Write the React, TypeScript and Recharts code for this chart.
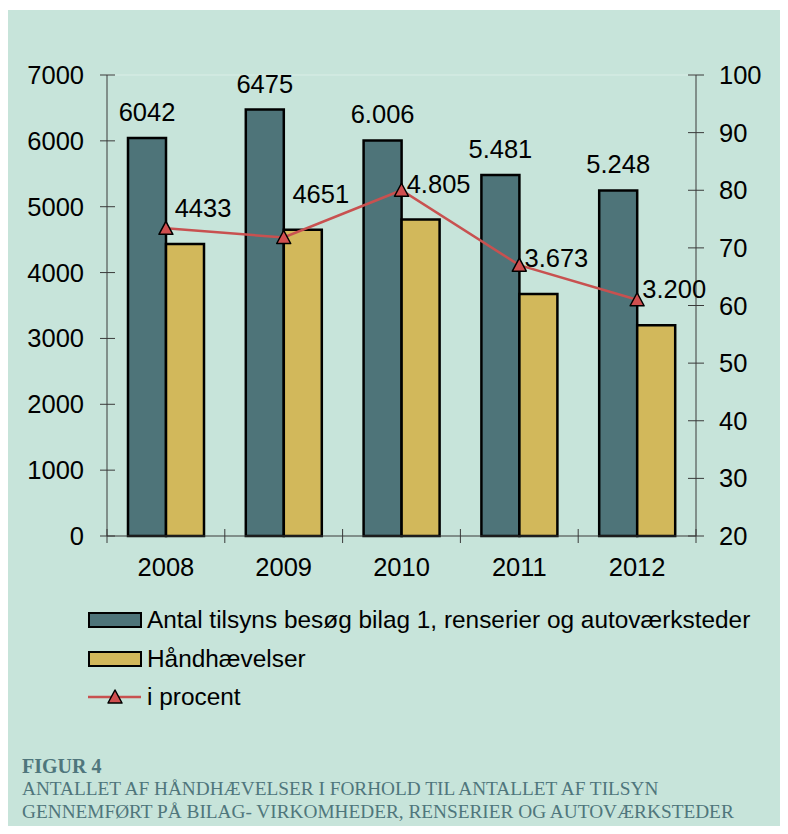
import React from 'react';
import { ComposedChart, Bar, Line, XAxis, YAxis, LabelList, ReferenceLine } from 'recharts';

const years = ['2008', '2009', '2010', '2011', '2012'];
const tilsyn = [6042, 6475, 6006, 5481, 5248];
const tilsynLabels = ['6042', '6475', '6.006', '5.481', '5.248'];
const haandhaevelser = [4433, 4651, 4805, 3673, 3200];
const haandLabels = ['4433', '4651', '4.805', '3.673', '3.200'];
const procent = [73.4, 71.8, 80.0, 67.0, 61.0];
const leftTicks = [0, 1000, 2000, 3000, 4000, 5000, 6000, 7000];
const rightTicks = [20, 30, 40, 50, 60, 70, 80, 90, 100];
const seriesNames = [
  'Antal tilsyns besøg bilag 1, renserier og autoværksteder',
  'Håndhævelser',
  'i procent',
];
const captionTitle = 'FIGUR 4';
const captionLines = [
  'ANTALLET AF HÅNDHÆVELSER I FORHOLD TIL ANTALLET AF TILSYN',
  'GENNEMFØRT PÅ BILAG- VIRKOMHEDER, RENSERIER OG AUTOVÆRKSTEDER',
];

const data = years.map((year, i) => ({
  year,
  tilsyn: tilsyn[i],
  tilsynLabel: tilsynLabels[i],
  haand: haandhaevelser[i],
  haandLabel: haandLabels[i],
  procent: procent[i],
}));

const BG = '#c7e4da';
const DARK = '#4e7479';
const GOLD = '#d2b85b';
const RED = '#c85150';
const AXIS = '#3a3a3a';
const FONT = '"Liberation Sans", Arial, sans-serif';
const FS = 25.5;

// plot box
const P_LEFT = 107;
const P_RIGHT = 696;
const P_TOP = 75;
const P_BOTTOM = 536;
const BAND = (P_RIGHT - P_LEFT) / years.length;

const LeftTick = (props: any) => {
  const { y, payload } = props;
  return (
    <g>
      <line x1={P_LEFT - 7} x2={P_LEFT + 8} y1={y} y2={y} stroke={AXIS} strokeWidth={1} />
      <text x={P_LEFT - 23} y={y} textAnchor="end" dominantBaseline="central" fontFamily={FONT} fontSize={FS} fill="#000">
        {payload.value}
      </text>
    </g>
  );
};

const RightTick = (props: any) => {
  const { y, payload } = props;
  return (
    <g>
      <line x1={P_RIGHT - 8} x2={P_RIGHT + 8} y1={y} y2={y} stroke={AXIS} strokeWidth={1} />
      <text x={P_RIGHT + 23} y={y} textAnchor="start" dominantBaseline="central" fontFamily={FONT} fontSize={FS} fill="#000">
        {payload.value}
      </text>
    </g>
  );
};

const BottomTick = (props: any) => {
  const { x, payload, index } = props;
  const left = x - BAND / 2;
  return (
    <g>
      <line x1={left} x2={left} y1={P_BOTTOM - 7} y2={P_BOTTOM + 7} stroke={AXIS} strokeWidth={1} />
      {index === years.length - 1 && (
        <line x1={x + BAND / 2} x2={x + BAND / 2} y1={P_BOTTOM - 7} y2={P_BOTTOM + 7} stroke={AXIS} strokeWidth={1} />
      )}
      <text x={x} y={P_BOTTOM + 31} textAnchor="middle" dominantBaseline="central" fontFamily={FONT} fontSize={FS} fill="#000">
        {payload.value}
      </text>
    </g>
  );
};

const Triangle = ({ cx, cy, size = 14 }: any) => (
  <path
    d={`M${cx},${cy - 7} L${cx + size / 2},${cy + 6} L${cx - size / 2},${cy + 6} Z`}
    fill="#d04f4f"
    stroke="#000"
    strokeWidth={1.5}
    strokeLinejoin="round"
  />
);

const darkLabel = (p: any) => (
  <text
    key={`dl${p.index}`}
    x={p.x + p.width / 2}
    y={p.y - 26}
    textAnchor="middle"
    dominantBaseline="central"
    fontFamily={FONT}
    fontSize={FS}
    fill="#000"
  >
    {p.value}
  </text>
);

const goldLabel = (p: any) => (
  <text
    key={`gl${p.index}`}
    x={p.x + p.width / 2 + 18}
    y={p.y - 36}
    textAnchor="middle"
    dominantBaseline="central"
    fontFamily={FONT}
    fontSize={FS}
    fill="#000"
  >
    {p.value}
  </text>
);

const LegendBlock = () => (
  <div style={{ position: 'absolute', left: 88, top: 601, fontFamily: FONT, fontSize: 24.4, color: '#000' }}>
    {seriesNames.map((name, i) => (
      <div key={name} style={{ display: 'flex', alignItems: 'center', height: 38.5 }}>
        <svg width={56} height={20} style={{ marginRight: 3 }}>
          {i < 2 ? (
            <rect x={1} y={3} width={52} height={14} fill={i === 0 ? DARK : GOLD} stroke="#000" strokeWidth={2} />
          ) : (
            <g>
              <line x1={0} x2={53} y1={10} y2={10} stroke={RED} strokeWidth={2.5} />
              <Triangle cx={27} cy={10} />
            </g>
          )}
        </svg>
        <span style={{ lineHeight: 1 }}>{name}</span>
      </div>
    ))}
  </div>
);

export default function App() {
  return (
    <div style={{ position: 'relative', margin: -8, width: 788, height: 834, background: '#fff', overflow: 'hidden' }}>
      <div style={{ position: 'absolute', left: 6, top: 10, right: 0, bottom: 1, background: BG }} />
      <div style={{ position: 'absolute', left: 0, top: 0 }}>
        <ComposedChart
          width={788}
          height={600}
          data={data}
          margin={{ top: P_TOP, left: P_LEFT - 60, right: 788 - P_RIGHT - 60, bottom: 600 - P_BOTTOM - 40 }}
          barSize={38}
          barGap={0}
        >
          <XAxis
            dataKey="year"
            height={40}
            axisLine={{ stroke: AXIS, strokeWidth: 1 }}
            tickLine={false}
            tick={BottomTick}
            interval={0}
          />
          <YAxis
            yAxisId="left"
            width={60}
            domain={[0, 7000]}
            ticks={leftTicks}
            axisLine={{ stroke: AXIS, strokeWidth: 1 }}
            tickLine={false}
            tick={LeftTick}
            interval={0}
          />
          <YAxis
            yAxisId="right"
            orientation="right"
            width={60}
            domain={[20, 100]}
            ticks={rightTicks}
            axisLine={{ stroke: AXIS, strokeWidth: 1 }}
            tickLine={false}
            tick={RightTick}
            interval={0}
          />
          <ReferenceLine yAxisId="left" y={7000} stroke="#daeee7" strokeWidth={1} />
          <Bar yAxisId="left" dataKey="tilsyn" name={seriesNames[0]} fill={DARK} stroke="#000" strokeWidth={2.5} isAnimationActive={false}>
            <LabelList dataKey="tilsynLabel" content={darkLabel} />
          </Bar>
          <Bar yAxisId="left" dataKey="haand" name={seriesNames[1]} fill={GOLD} stroke="#000" strokeWidth={2.5} isAnimationActive={false}>
            <LabelList dataKey="haandLabel" content={goldLabel} />
          </Bar>
          <Line
            yAxisId="right"
            type="linear"
            dataKey="procent"
            name={seriesNames[2]}
            stroke={RED}
            strokeWidth={2.5}
            dot={(p: any) => <Triangle key={`t${p.index}`} cx={p.cx} cy={p.cy} />}
            activeDot={false}
            isAnimationActive={false}
          />
        </ComposedChart>
      </div>
      <LegendBlock />
      <div style={{ position: 'absolute', left: 22, top: 755, fontFamily: '"Liberation Serif", "DejaVu Serif", serif', color: '#4f767c' }}>
        <div style={{ fontWeight: 'bold', fontSize: 20, lineHeight: '22px' }}>{captionTitle}</div>
        {captionLines.map((l) => (
          <div key={l} style={{ fontSize: 19.3, lineHeight: '23px', whiteSpace: 'nowrap' }}>{l}</div>
        ))}
      </div>
    </div>
  );
}
